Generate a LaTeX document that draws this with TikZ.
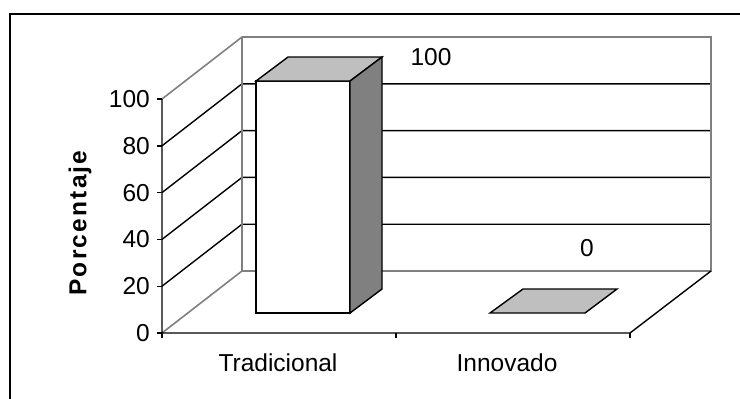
\documentclass[tikz,border=0pt]{standalone}
\usepackage{fontspec}
\setmainfont{Liberation Sans}
\usetikzlibrary{positioning}
\tikzstyle{gridline} = [black, line width=1.4pt]
\tikzstyle{wall} = [gray, line width=1.6pt]
\tikzstyle{barface} = [draw=black, line width=1.4pt, line join=miter]
\tikzstyle{chartlabel} = [inner sep=0pt, font=\fontsize{24.5}{28}\selectfont]

\begin{document}
\begin{tikzpicture}[x=1pt,y=-1pt]
\useasboundingbox (0,0) rectangle (740,399);
\clip (0,0) rectangle (740,399);
% outer frame (only top and left inside the page)
\draw[line width=2pt] (10,420) -- (10,14) -- (760,14);
% levels on the front axis and the back wall
\foreach \v in {0,20,...,100}{
  \coordinate (f\v) at (162,{333-2.34*\v});
  \coordinate (b\v) at (242,{271-2.34*\v});
}
\coordinate (wallTR) at (711,37);
\coordinate (wallBR) at (711,271);
\coordinate (floorFR) at (630,333);
% back wall and side wall
\foreach \v in {20,40,...,80}{
  \draw[gridline] (f\v) -- (b\v) -- (b\v -| wallBR);
}
\draw[wall] (f0) -- (b0) -- (wallBR) -- (wallTR) -- (b100) -- (f100);
\draw[wall] (b100) -- (b0);
% floor and axis
\draw[gridline] (f100) -- (f0) -- (floorFR) -- (wallBR);
\foreach \v in {0,20,...,100}{
  \draw[gridline] (f\v) -- ++(-5,0);
  \node[chartlabel, left=12pt of f\v] (lab\v) {\v};
}
\foreach \x in {162,396,630}{
  \draw[gridline] (\x,333) -- (\x,338);
}
% bar Tradicional
\fill[white, barface] (256,313) rectangle (350,81);
\filldraw[barface, fill=black!25] (256,81) -- (288,57) -- (382,57) -- (350,81) -- cycle;
\filldraw[barface, fill=black!50] (350,81) -- (382,57) -- (382,289) -- (350,313) -- cycle;
% bar Innovado
\filldraw[barface, fill=black!25] (490,313) -- (585,313) -- (617,289) -- (523,289) -- cycle;
% labels
\node[chartlabel] (val100) at (431,57) {100};
\node[chartlabel] (val0) at (587,248) {0};
\node[chartlabel, anchor=base] (catTrad) at (278,371) {Tradicional};
\node[chartlabel, anchor=base] (catInno) at (507,371) {Innovado};
\node[chartlabel, font=\fontsize{24.5}{28}\selectfont\bfseries\addfontfeature{LetterSpace=9}, rotate=90] (ytitle) at (80,223) {Porcentaje};
\end{tikzpicture}
\end{document}
